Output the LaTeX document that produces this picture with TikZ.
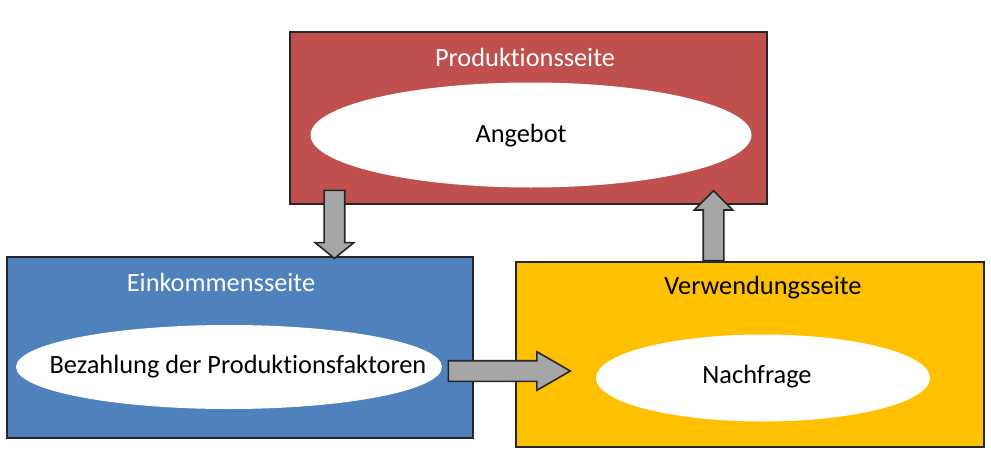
\documentclass[tikz,border=0pt]{standalone}
\usepackage{fontspec}
\setmainfont{Carlito}[Ligatures=NoCommon]
\usetikzlibrary{shapes.geometric,shapes.arrows,calc}
\definecolor{prodred}{HTML}{C0504D}
\definecolor{einkblue}{HTML}{4F81BD}
\definecolor{verwyellow}{HTML}{FFC000}
\definecolor{pfeilgray}{HTML}{A6A6A6}
\begin{document}
\begin{tikzpicture}[font=\fontsize{15}{18}\selectfont,
    seite/.style={draw=black!85,line width=0.6pt,inner sep=0pt},
    oval/.style={ellipse,fill=white,inner sep=0pt},
    pfeil/.style={single arrow,draw=black!85,fill=pfeilgray,line width=0.9pt,inner xsep=0pt,
      inner ysep=0.19cm,single arrow head extend=0.18cm}]
  \useasboundingbox (0,0) rectangle (19.82,9.08);
  \node [seite,fill=prodred,minimum width=9.54cm,minimum height=3.44cm] (prod) at (10.57,6.72) {};
  \node [seite,fill=einkblue,minimum width=9.32cm,minimum height=3.62cm] (eink) at (4.8,2.13) {};
  \node [seite,fill=verwyellow,minimum width=9.36cm,minimum height=3.7cm] (verw) at (15,1.99) {};
  \node [text=white] (prodtitel) at (10.5,7.94) {Produktionsseite};
  \node [text=white] (einktitel) at (4.42,3.44) {Einkommensseite};
  \node (verwtitel) at (15.26,3.32) {Verwendungsseite};
  \node [oval,minimum width=8.82cm,minimum height=2.1cm] (angebot) at (10.62,6.38) {};
  \node [oval,minimum width=8.52cm,minimum height=1.68cm] (bezahlung) at (4.58,1.74) {};
  \node [oval,minimum width=6.68cm,minimum height=1.74cm] (nachfrage) at (15.26,1.52) {};
  \node (angebottext) at (10.42,6.36) {Angebot};
  \node (bezahlungtext) at (4.76,1.74) {Bezahlung der Produktionsfaktoren};
  \node (nachfragetext) at (15.14,1.54) {Nachfrage};
  \node [pfeil,rotate=-90,anchor=tail,minimum height=1.36cm,single arrow tip angle=102] (runter) at ($(prod.south west)+(0.9,0.3)$) {};
  \node [pfeil,rotate=90,anchor=tail,minimum height=1.4cm,single arrow tip angle=90] (hoch) at ($(prod.south east |- verw.north)+(-1.08,0)$) {};
  \node [pfeil,anchor=tail,minimum height=2.44cm,single arrow tip angle=60] (rechts) at ($(eink.east)+(-0.52,-0.47)$) {};
\end{tikzpicture}
\end{document}
